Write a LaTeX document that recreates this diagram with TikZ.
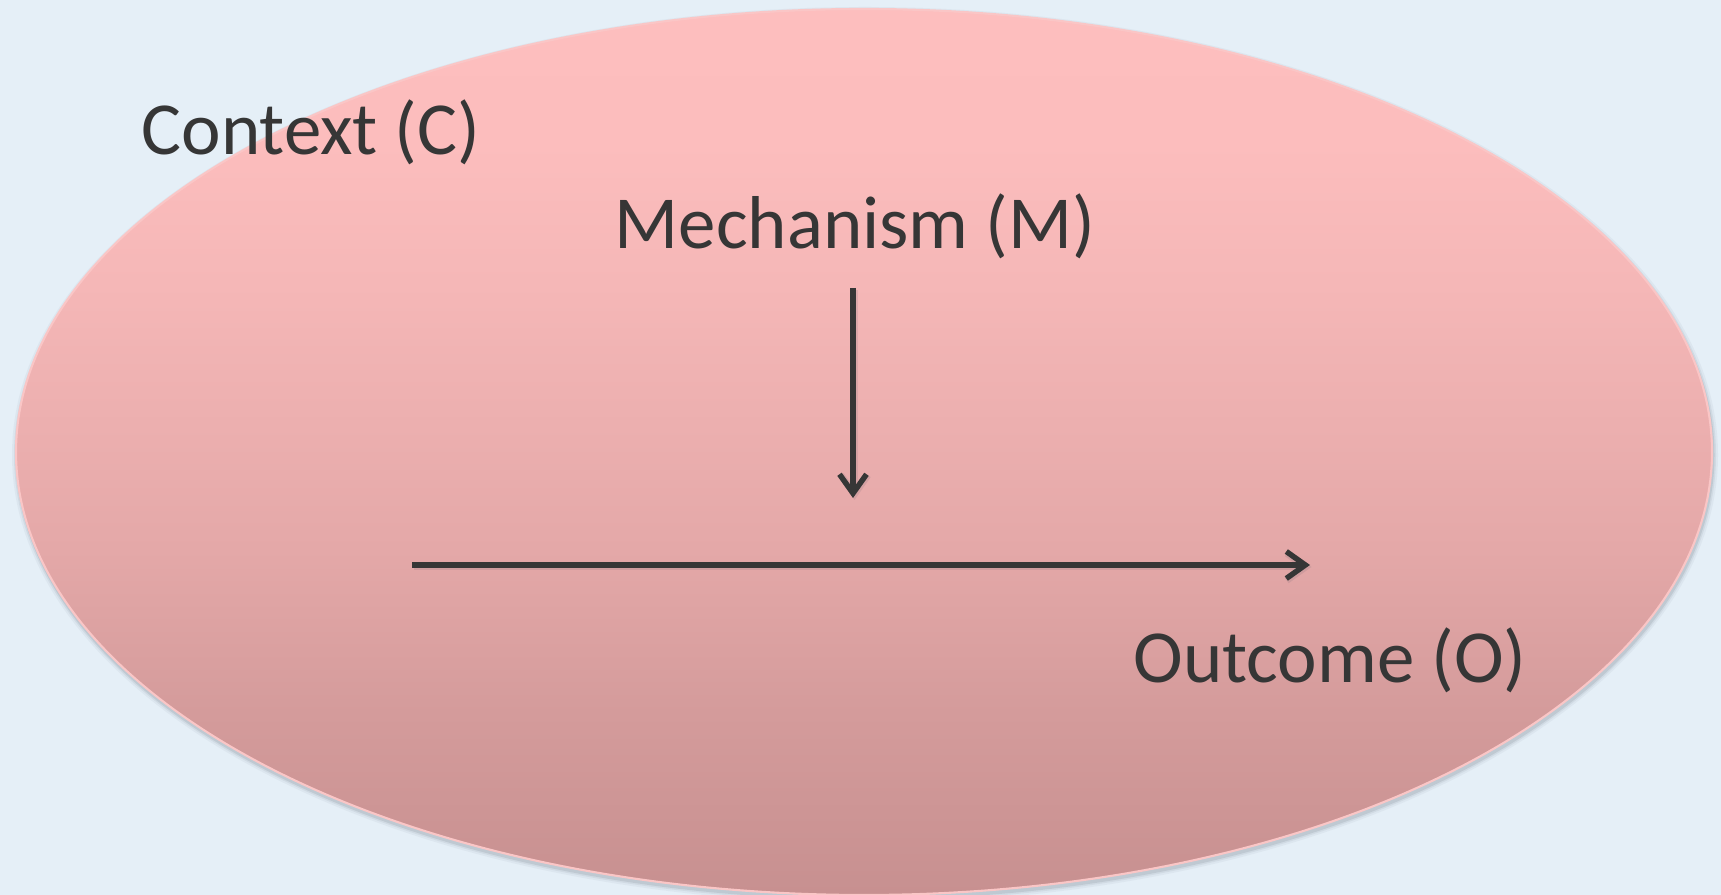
\documentclass[tikz,border=0pt]{standalone}
\usepackage{fontspec}
\setmainfont{Carlito}
\usetikzlibrary{arrows.meta}
\definecolor{bgblue}{RGB}{229,239,247}
\definecolor{psa}{RGB}{199,144,144}
\definecolor{psb}{RGB}{212,155,155}
\definecolor{psc}{RGB}{228,168,168}
\definecolor{psd}{RGB}{245,183,183}
\definecolor{pse}{RGB}{252,189,189}
\definecolor{psf}{RGB}{253,190,190}
\definecolor{ink}{RGB}{54,54,54}
\definecolor{rim}{RGB}{250,198,198}
\definecolor{shadowc}{RGB}{70,80,95}
\pgfdeclareverticalshading{ellshade}{100bp}{color(0bp)=(psa); color(25bp)=(psa); color(35.25bp)=(psb); color(44.5bp)=(psc); color(59.5bp)=(psd); color(67.5bp)=(pse); color(75bp)=(psf); color(100bp)=(psf)}
\begin{document}
\begin{tikzpicture}[x=0.01cm,y=-0.01cm,
  lab/.style={font=\fontsize{21.3pt}{25pt}\selectfont, text=ink, inner sep=0pt, anchor=base},
  conn/.style={draw=ink, line width=1.55pt, -{Straight Barb[length=1.9mm,width=2.7mm]}},
  connshadow/.style={draw=shadowc, opacity=0.12, line width=1.9pt, -{Straight Barb[length=1.9mm,width=2.7mm]}},
]
\fill[bgblue] (0,0) rectangle (1721,895);
\useasboundingbox (0,0) rectangle (1721,895);
% soft shadow of the ellipse
\foreach \rx/\ry/\o in {853/448/0.05,851/446/0.08,849.5/444.5/0.12}{
  \fill[shadowc, opacity=\o] (865,455) ellipse [x radius=\rx, y radius=\ry];
}
% ellipse
\shade[shading=ellshade] (864,452) ellipse [x radius=848, y radius=443];
\draw[rim, line width=0.6pt] (864,452) ellipse [x radius=848, y radius=443];
% labels
\node[lab] (ctx) at (311,155) {Context (C)};
\node[lab] (mech) at (855,249) {Mechanism (M)};
\node[lab] (out) at (1330,683) {Outcome (O)};
% connector end points
\coordinate (mtop) at (853,288);
\coordinate (mtip) at (853,498);
\coordinate (hstart) at (412,565);
\coordinate (hend) at (1310,565);
\coordinate (mtops) at (854.5,290);
\coordinate (mtips) at (854.5,500);
\coordinate (hstarts) at (413.5,567);
\coordinate (hends) at (1311.5,567);
% arrows
\draw[connshadow] (mtops) -- (mtips);
\draw[connshadow] (hstarts) -- (hends);
\draw[conn] (mtop) -- (mtip);
\draw[conn] (hstart) -- (hend);
\end{tikzpicture}
\end{document}
